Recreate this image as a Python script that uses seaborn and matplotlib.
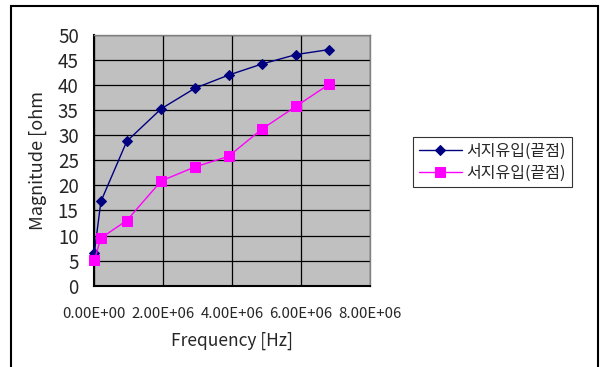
import matplotlib
matplotlib.use("Agg")
import matplotlib.pyplot as plt
import matplotlib.ticker as mticker
from matplotlib.patches import Rectangle
import seaborn as sns
import pandas as pd

freq_a = [0.01e6, 0.2e6, 0.95e6, 1.95e6, 2.93e6, 3.9e6, 4.86e6, 5.86e6, 6.82e6]
mag_a = [6.6, 16.8, 28.8, 35.3, 39.4, 42.0, 44.2, 46.1, 47.1]
freq_b = [0.01e6, 0.2e6, 0.95e6, 1.95e6, 2.93e6, 3.9e6, 4.86e6, 5.86e6, 6.82e6]
mag_b = [5.1, 9.5, 13.0, 20.9, 23.7, 25.8, 31.2, 35.8, 40.2]
label_a = "서지유입(끝점)"
label_b = "서지유입(끝점)"

sns.set_theme(style="white")
plt.rcParams['font.family'] = ['Noto Sans CJK KR', 'DejaVu Sans']

fig = plt.figure(figsize=(6.07, 3.67), dpi=100)
ax = fig.add_axes([94/607, 1-285.7/367, (370-94)/607, (285.7-35)/367])
ax.set_facecolor('#C0C0C0')

df_a = pd.DataFrame({'f': freq_a, 'm': mag_a})
df_b = pd.DataFrame({'f': freq_b, 'm': mag_b})
sns.lineplot(data=df_a, x='f', y='m', ax=ax, color='#000080', marker='D',
             markersize=5.5, markeredgecolor='#000080', linewidth=1.0, label=label_a,
             clip_on=False, zorder=4)
sns.lineplot(data=df_b, x='f', y='m', ax=ax, color='#FF00FF', marker='s',
             markersize=7, markeredgecolor='#FF00FF', linewidth=1.0, label=label_b,
             clip_on=False, zorder=5)

ax.set_xlim(0, 8e6)
ax.set_ylim(0, 50)
ax.set_xticks([0, 2e6, 4e6, 6e6, 8e6])
ax.set_yticks(range(0, 51, 5))
ax.xaxis.set_major_formatter(mticker.FuncFormatter(lambda v, p: "%.2E" % v))
ax.grid(True, color='black', linewidth=0.9)
ax.set_axisbelow(True)
for s in ['top', 'right']:
    ax.spines[s].set_color('#808080')
    ax.spines[s].set_linewidth(1.0)
for s in ['left', 'bottom']:
    ax.spines[s].set_color('black')
    ax.spines[s].set_linewidth(1.5)
ax.tick_params(axis='y', labelsize=13.5, pad=11, length=0)
ax.tick_params(axis='x', labelsize=10.8, pad=15, length=0)
ax.set_xlabel("Frequency [Hz]", fontsize=12.5, labelpad=8)
ax.set_ylabel("Magnitude [ohm", fontsize=13, labelpad=8)

leg = ax.get_legend()
leg.remove()
handles, labels = ax.get_legend_handles_labels()
fl = fig.legend(handles, labels, loc='upper left', bbox_to_anchor=(413/607, 1-137/367),
                fontsize=11.5, frameon=True, fancybox=False, edgecolor='black',
                borderpad=0.35, labelspacing=0.3, handlelength=2.7, handletextpad=0.3,
                borderaxespad=0)
fl.get_frame().set_linewidth(0.8)

fig.patches.append(Rectangle((11/607, -0.05), (598-11)/607, 1.05-6/367, transform=fig.transFigure,
                             fill=False, edgecolor='black', linewidth=1.5))

fig.savefig("out.png", dpi=100)
